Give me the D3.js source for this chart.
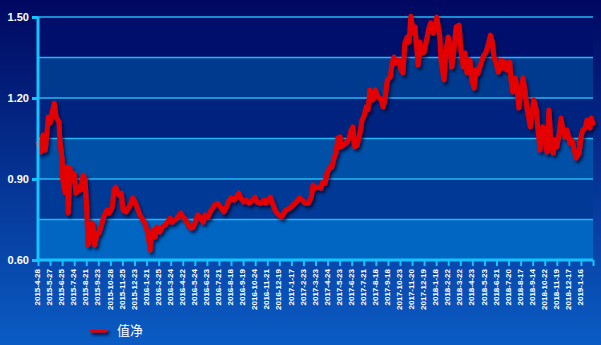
<!DOCTYPE html>
<html>
<head>
<meta charset="utf-8">
<script src="https://cdn.jsdelivr.net/npm/d3@7/dist/d3.min.js"></script>
<style>
  html, body { margin: 0; padding: 0; background: #000a5e; }
  svg { display: block; }
</style>
</head>
<body>
<svg id="chart" width="601" height="345"></svg>
<script>
// trading-day offset from 2015-4-28, and net value
const days = [0,5,8,12,17,20,23,27,30,35,36,40,41,45,48,50,53,56,60,63,68,71,75,78,80,83,85,90,91,94,98,101,106,109,114,118,123,126,129,134,138,141,146,151,154,157,161,166,169,174,177,182,186,187,191,194,197,202,206,211,214,219,222,227,230,237,240,244,249,254,257,260,265,270,274,277,282,287,290,293,298,303,308,312,317,320,325,328,333,337,341,345,350,353,360,363,368,370,375,378,385,388,393,396,403,406,411,418,423,428,434,438,443,448,453,456,459,464,469,472,476,479,484,487,491,494,497,501,502,507,511,516,519,522,525,529,534,537,540,544,547,550,552,555,559,564,569,572,575,579,584,587,590,593,598,602,605,608,612,615,618,622,625,627,630,633,637,640,643,648,651,655,658,661,666,668,673,676,680,683,686,690,693,698,701,705,708,711,716,719,723,726,729,736,739,742,747,750,753,756,759,763,768,771,774,777,782,784,787,791,794,797,801,804,807,811,816,819,822,826,829,832,834,837,840,844,847,850,854,857,860,864,867,870,874,877,882,885,889,892,897,900,903,907,910,915,917,920];
const values = [1.033,1.00,1.063,1.007,1.13,1.107,1.144,1.18,1.13,1.11,1.044,0.97,0.896,0.848,0.944,0.774,0.94,0.896,0.92,0.848,0.87,0.86,0.915,0.896,0.822,0.656,0.685,0.737,0.722,0.656,0.70,0.70,0.737,0.76,0.785,0.774,0.796,0.86,0.87,0.84,0.848,0.785,0.778,0.796,0.81,0.83,0.815,0.785,0.767,0.748,0.737,0.70,0.637,0.674,0.711,0.685,0.722,0.704,0.722,0.73,0.74,0.755,0.74,0.748,0.755,0.774,0.76,0.752,0.73,0.718,0.722,0.737,0.767,0.755,0.74,0.767,0.76,0.785,0.793,0.804,0.81,0.796,0.778,0.793,0.822,0.83,0.822,0.83,0.848,0.826,0.815,0.822,0.81,0.815,0.833,0.815,0.81,0.81,0.822,0.81,0.833,0.815,0.785,0.774,0.76,0.767,0.785,0.793,0.804,0.815,0.83,0.822,0.81,0.81,0.833,0.878,0.866,0.87,0.866,0.889,0.885,0.922,0.944,0.944,0.981,0.996,1.052,1.056,1.019,1.026,1.033,1.052,1.081,1.093,1.019,1.026,1.074,1.118,1.13,1.167,1.156,1.23,1.218,1.193,1.23,1.204,1.193,1.167,1.193,1.267,1.278,1.33,1.352,1.33,1.34,1.304,1.293,1.404,1.426,1.407,1.503,1.44,1.463,1.404,1.322,1.407,1.367,1.37,1.404,1.459,1.478,1.44,1.459,1.50,1.426,1.34,1.267,1.367,1.426,1.389,1.315,1.389,1.463,1.47,1.378,1.315,1.367,1.293,1.34,1.267,1.237,1.304,1.29,1.34,1.359,1.367,1.404,1.433,1.407,1.348,1.333,1.296,1.34,1.311,1.333,1.304,1.333,1.267,1.222,1.274,1.237,1.163,1.23,1.274,1.23,1.156,1.093,1.144,1.193,1.156,1.081,1.007,1.07,1.093,1.044,1.00,1.156,1.044,0.996,1.044,1.019,1.07,1.126,1.081,1.056,1.081,1.033,1.044,1.007,0.978,0.996,1.056,1.081,1.089,1.118,1.089,1.126,1.107];

const xLabels = ["2015-4-28","2015-5-27","2015-6-25","2015-7-24","2015-8-21","2015-9-23","2015-10-28","2015-11-25","2015-12-23",
  "2016-1-21","2016-2-25","2016-3-24","2016-4-22","2016-5-24","2016-6-23","2016-7-21","2016-8-18","2016-9-19","2016-10-24","2016-11-21","2016-12-19",
  "2017-1-17","2017-2-23","2017-3-23","2017-4-24","2017-5-23","2017-6-23","2017-7-21","2017-8-18","2017-9-18","2017-10-23","2017-11-20","2017-12-19",
  "2018-1-18","2018-2-22","2018-3-22","2018-4-23","2018-5-23","2018-6-21","2018-7-20","2018-8-17","2018-9-14","2018-10-22","2018-11-19","2018-12-17",
  "2019-1-16"];
const labelStep = 20;
const yTicks = [0.60, 0.90, 1.20, 1.50];
const yGrid = [0.60, 0.75, 0.90, 1.05, 1.20, 1.35, 1.50];
const seriesName = "值净";

const W = 601, H = 345;
const plot = { left: 38, right: 593, top: 17, bottom: 260 };
const bandColors = ["#0066c2", "#003a96", "#0050a8", "#00237f", "#003a8e", "#000f6c"];

const svg = d3.select("#chart");
const defs = svg.append("defs");

const bg = defs.append("linearGradient").attr("id", "bg")
  .attr("x1", 0).attr("y1", 0).attr("x2", 0).attr("y2", 1);
bg.append("stop").attr("offset", "0%").attr("stop-color", "#000860");
bg.append("stop").attr("offset", "100%").attr("stop-color", "#0a5cc4");

const shadow = defs.append("filter").attr("id", "shadow")
  .attr("filterUnits", "userSpaceOnUse")
  .attr("x", 0).attr("y", 0).attr("width", W).attr("height", H);
shadow.append("feDropShadow").attr("dx", 2).attr("dy", 3).attr("stdDeviation", 1.6)
  .attr("flood-color", "#000020").attr("flood-opacity", 0.65);

svg.append("rect").attr("width", W).attr("height", H).attr("fill", "url(#bg)");

const x = d3.scaleLinear().domain([0, xLabels.length * labelStep]).range([plot.left, plot.right]);
const y = d3.scaleLinear().domain([0.6, 1.5]).range([plot.bottom, plot.top]);

// horizontal bands between grid lines
const bands = d3.pairs(yGrid);
svg.selectAll("rect.band").data(bands).enter().append("rect")
  .attr("class", "band")
  .attr("x", plot.left).attr("width", plot.right - plot.left)
  .attr("y", d => y(d[1])).attr("height", d => y(d[0]) - y(d[1]))
  .attr("fill", (d, i) => bandColors[i]);

svg.selectAll("line.grid").data(yGrid).enter().append("line")
  .attr("class", "grid")
  .attr("x1", plot.left).attr("x2", plot.right)
  .attr("y1", d => y(d)).attr("y2", d => y(d))
  .attr("stroke", "#22b8f4").attr("stroke-width", 1.3);

// line series
const pts = days.map((d, i) => [d, values[i]]);
const line = d3.line().x(d => x(d[0])).y(d => y(d[1]));
svg.append("path").datum(pts)
  .attr("d", line)
  .attr("fill", "none")
  .attr("stroke", "#e40000")
  .attr("stroke-width", 5)
  .attr("stroke-linejoin", "round")
  .attr("stroke-linecap", "round")
  .attr("filter", "url(#shadow)");

// y axis
const yAxis = svg.append("g").attr("transform", `translate(${plot.left},0)`)
  .call(d3.axisLeft(y).tickValues(yTicks).tickFormat(d3.format(".2f")).tickSize(6).tickPadding(3));
yAxis.select(".domain").remove();
yAxis.selectAll(".tick line").attr("stroke", "#12c4ff").attr("stroke-width", 3);
yAxis.selectAll(".tick text")
  .attr("fill", "#ffffff").attr("font-family", "Liberation Sans, Arial, sans-serif")
  .attr("font-size", 11).attr("font-weight", "bold");
svg.append("line").attr("x1", plot.left).attr("x2", plot.left).attr("y1", plot.top).attr("y2", plot.bottom + 1.5)
  .attr("stroke", "#12c4ff").attr("stroke-width", 3);

// x axis
const xTickVals = d3.range(0, xLabels.length + 1).map(i => i * labelStep);
const xAxis = svg.append("g").attr("transform", `translate(0,${plot.bottom})`)
  .call(d3.axisBottom(x).tickValues(xTickVals)
    .tickFormat(d => xLabels[d / labelStep] || "").tickSize(6).tickPadding(3));
xAxis.select(".domain").remove();
xAxis.selectAll(".tick line").attr("stroke", "#12c4ff").attr("stroke-width", 2);
xAxis.selectAll(".tick text")
  .attr("fill", "#ffffff").attr("font-family", "Liberation Sans, Arial, sans-serif")
  .attr("font-size", 8).attr("font-weight", "bold")
  .attr("text-anchor", "end")
  .attr("transform", "rotate(-90)")
  .attr("x", -9).attr("y", -1).attr("dy", "0.33em");
svg.append("line").attr("x1", plot.left).attr("x2", plot.right).attr("y1", plot.bottom).attr("y2", plot.bottom)
  .attr("stroke", "#12c4ff").attr("stroke-width", 3);

// legend
const legend = svg.append("g").attr("transform", "translate(90,330)");
legend.append("line").attr("x1", 2).attr("x2", 15).attr("y1", 0).attr("y2", 0)
  .attr("stroke", "#e40000").attr("stroke-width", 5).attr("stroke-linecap", "round")
  .attr("filter", "url(#shadow)");
legend.append("text").attr("x", 27).attr("y", 0).attr("dy", "0.36em")
  .attr("fill", "#ffffff").attr("font-family", "Noto Sans CJK SC, sans-serif")
  .attr("font-size", 13).text(seriesName);
</script>
</body>
</html>
